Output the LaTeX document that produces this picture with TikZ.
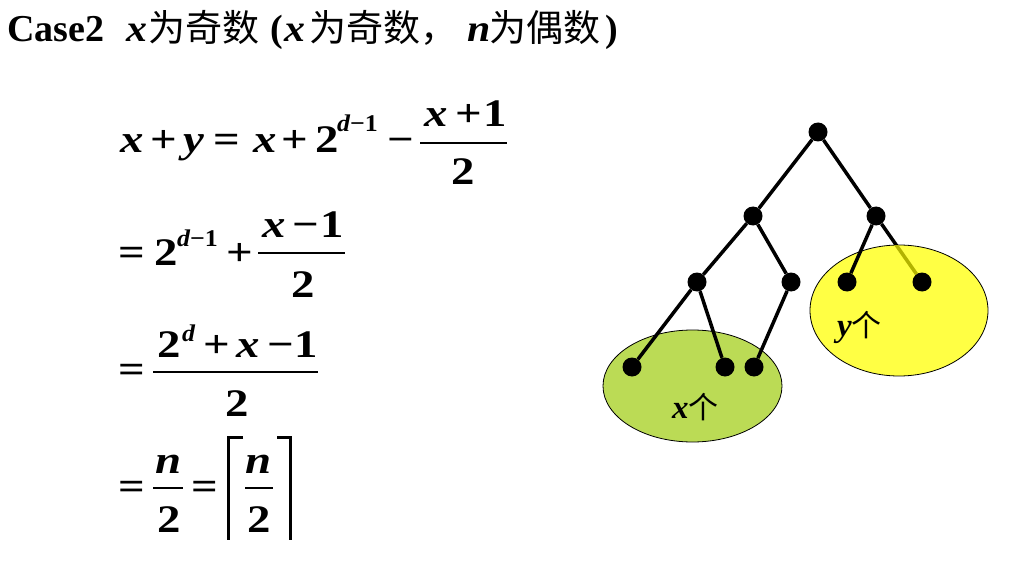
\documentclass[tikz,border=0pt]{standalone}
\usepackage{fontspec}
\setmainfont{Liberation Serif}
\newfontfamily\cjk{Noto Sans CJK SC}
\pgfdeclarelayer{bg}
\pgfdeclarelayer{edges}
\pgfsetlayers{bg,edges,main}
\definecolor{greenfill}{RGB}{187,219,85}
\definecolor{yellowfill}{RGB}{255,255,68}
\definecolor{olivehid}{RGB}{178,178,0}
\begin{document}
\begin{tikzpicture}[x=1pt,y=-1pt,
  g/.style={anchor=base,inner sep=0pt,xscale=1.2,font=\fontsize{39}{41}\selectfont\bfseries},
  gi/.style={anchor=base,inner sep=0pt,xscale=1.2,font=\fontsize{39}{41}\selectfont\bfseries\itshape},
  supx/.style={anchor=base west,inner sep=0pt,xscale=1.08,font=\fontsize{24}{26}\selectfont\bfseries},
  ttl/.style={anchor=base west,inner sep=0pt,font=\fontsize{38}{40}\selectfont\bfseries},
  ttli/.style={anchor=base west,inner sep=0pt,xscale=1.1,font=\fontsize{38}{40}\selectfont\bfseries\itshape},
  ttlc/.style={anchor=base west,inner sep=0pt,font=\cjk\fontsize{37}{40}\selectfont},
  fbar/.style={line width=2pt},
  ceil/.style={line width=3pt,line cap=butt,line join=miter},
  dot/.style={circle,fill=black,inner sep=0pt,minimum size=19pt},
  edgeline/.style={line width=3.5pt},
  lbl/.style={anchor=base west,inner sep=0pt}
]
\useasboundingbox (0,0) rectangle (1010,567);

% title
\node[ttl] (t1) at (7,42) {Case2};
\node[ttli] (t2) at (126,42) {x};
\node[ttlc] (t3) at (148,42) {为奇数};
\node[ttl] (t4) at (270,42) {(};
\node[ttli] (t5) at (284,42) {x};
\node[ttlc] (t6) at (309,42) {为奇数，};
\node[ttli] (t7) at (467,42) {n};
\node[ttlc] (t8) at (489,42) {为偶数};
\node[ttl] (t9) at (605,42) {)};

% line 1
\node[gi] (a1) at (132.5,153) {x};
\node[g] (a2) at (164,153) {+};
\node[gi] (a3) at (193.5,153) {y};
\node[g] (a4) at (226.5,153) {=};
\node[gi] (a5) at (265,153) {x};
\node[g] (a6) at (295,153) {+};
\node[g] (a7) at (327.5,153) {2};
\node[supx] (a8) at (337,132) {\itshape d\upshape −1};
\node[g] (a9) at (401,153) {−};
\draw[fbar] (420,143) -- (507,143);
\node[gi] (a10) at (436,127) {x};
\node[g] (a11) at (468.5,127) {+};
\node[g] (a12) at (495.5,127) {1};
\node[g] (a13) at (463,185) {2};

% line 2
\node[g] (b1) at (131.5,265) {=};
\node[g] (b2) at (166,265) {2};
\node[supx] (b3) at (177,247) {\itshape d\upshape −1};
\node[g] (b4) at (240,265) {+};
\draw[fbar] (258,253) -- (345,253);
\node[gi] (b5) at (274,237) {x};
\node[g] (b6) at (306,237) {−};
\node[g] (b7) at (332.5,237) {1};
\node[g] (b8) at (303,297) {2};

% line 3
\node[g] (c1) at (131.5,382.5) {=};
\draw[fbar] (153,372) -- (318,372);
\node[g] (c2) at (169,357) {2};
\node[supx] (c3) at (182,341) {\itshape d};
\node[g] (c4) at (216.5,357) {+};
\node[gi] (c5) at (248.5,357) {x};
\node[g] (c6) at (281,357) {−};
\node[g] (c7) at (306,357) {1};
\node[g] (c8) at (237.5,416) {2};

% line 4
\node[g] (d1) at (131.5,499.5) {=};
\draw[fbar] (153,488) -- (183,488);
\node[gi] (d2) at (168.5,473) {n};
\node[g] (d3) at (169,532) {2};
\node[g] (d4) at (205,499.5) {=};
\draw[ceil] (243,437) -- (228,437) -- (228,540);
\draw[fbar] (245,488) -- (273,488);
\node[gi] (d5) at (259,473) {n};
\node[g] (d6) at (259,532) {2};
\draw[ceil] (277,437) -- (290,437) -- (290,540);

% tree nodes
\node[dot] (r) at (818,132) {};
\node[dot] (p) at (753,216) {};
\node[dot] (q) at (876,216) {};
\node[dot] (pa) at (697,282) {};
\node[dot] (pb) at (791,282) {};
\node[dot] (qa) at (847,282) {};
\node[dot] (qb) at (922,282) {};
\node[dot] (la) at (632,367) {};
\node[dot] (lb) at (725,367) {};
\node[dot] (lc) at (754,367) {};

\begin{pgfonlayer}{bg}
  \draw[line width=0.8pt,fill=greenfill] (692.5,386) ellipse [x radius=89.5,y radius=56];
  \draw[edgeline] (q) -- (qb);
  \draw[line width=0.8pt,fill=yellowfill] (899,310.5) ellipse [x radius=89,y radius=65.5];
  \begin{scope}
    \clip (899,310.5) ellipse [x radius=88.6,y radius=65.1];
    \draw[edgeline,olivehid] (q) -- (qb);
  \end{scope}
\end{pgfonlayer}

\begin{pgfonlayer}{edges}
  \draw[edgeline] (r) -- (p);
  \draw[edgeline] (r) -- (q);
  \draw[edgeline] (p) -- (pa);
  \draw[edgeline] (p) -- (pb);
  \draw[edgeline] (q) -- (qa);
  \draw[edgeline] (pa) -- (la);
  \draw[edgeline] (pa) -- (lb);
  \draw[edgeline] (pb) -- (lc);
\end{pgfonlayer}

% labels
\node[lbl] (xl) at (672,418) {\fontsize{33}{35}\selectfont\bfseries\itshape x\/{\cjk\mdseries\upshape\fontsize{30}{32}\selectfont 个}};
\node[lbl] (yl) at (837,336) {\fontsize{33}{35}\selectfont\bfseries\itshape y\/{\cjk\mdseries\upshape\fontsize{30}{32}\selectfont 个}};
\end{tikzpicture}
\end{document}
